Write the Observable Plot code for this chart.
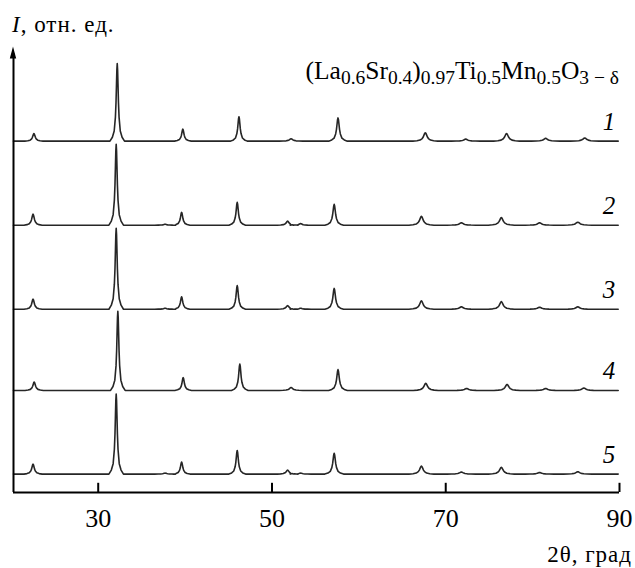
<!DOCTYPE html>
<html><head><meta charset="utf-8">
<script src="https://cdn.jsdelivr.net/npm/d3@7"></script>
<script src="https://cdn.jsdelivr.net/npm/@observablehq/plot@0.6"></script>
<style>
body{margin:0;background:#fff;}
#chart{width:635px;height:568px;}
</style></head><body><div id="chart"></div>
<script>
// ---- data ----
const sampleLabels = ["1", "2", "3", "4", "5"];
// vertical stacking offset of each pattern (relative units)
const baselines = [439, 334, 229, 127.5, 23];
// peak positions, 2θ (deg)
const pos1 = [22.6, 32.19, 39.74, 46.2, 52.2, 57.6, 67.65, 72.3, 77.0, 81.5, 86.0];
const pos4 = [22.63, 32.26, 39.78, 46.3, 52.2, 57.6, 67.7, 72.4, 77.06, 81.5, 85.9];
const posB = [22.5, 32.07, 37.7, 39.6, 46.0, 51.8, 53.3, 57.16, 67.2, 71.8, 76.4, 80.8, 85.2];
// peak intensities, relative units
const int1 = [9.5, 97, 15, 30.5, 3, 29, 10.5, 2.5, 9.5, 3.5, 4];
const int2 = [13.75, 101, 1.25, 16, 28.5, 5, 2, 26, 11, 3, 9.5, 3, 3.75];
const int3 = [12.5, 101, 1.25, 15.5, 29.5, 4.5, 1.25, 26, 10.5, 3, 9.5, 2.5, 3];
const int4 = [10.5, 99, 16, 33, 3.75, 26, 9, 2.5, 7.5, 2.5, 3];
const int5 = [12.5, 100, 1.25, 15, 29.5, 5, 1.25, 26, 10, 2.5, 8.5, 2, 3];
// peak full widths at half maximum, deg
const fwA = [0.35, 0.28, 0.32, 0.32, 0.45, 0.36, 0.48, 0.55, 0.5, 0.55, 0.55];
const fwB = [0.35, 0.28, 0.4, 0.32, 0.32, 0.4, 0.4, 0.36, 0.48, 0.55, 0.5, 0.55, 0.55];
const xTicks = [30, 50, 70, 90];

const positions = [pos1, posB, posB, pos4, posB];
const intensities = [int1, int2, int3, int4, int5];
const widths = [fwA, fwB, fwB, fwA, fwB];

const xDomain = [20.25, 90];
const yTop = 556;

// peak outline template (in FWHM units / fraction of peak height)
const shapeDx = [-3, -2, -1.25, -0.75, -0.5, -0.3, -0.15, 0, 0.15, 0.3, 0.5, 0.75, 1.25, 2, 3];
const shapeFr = [0, 0.05, 0.13, 0.31, 0.5, 0.74, 0.92, 1, 0.92, 0.74, 0.5, 0.31, 0.13, 0.05, 0];

const rows = [];
sampleLabels.forEach((s, i) => {
  const b = baselines[i];
  const pts = [{x: xDomain[0], y: b}, {x: 89.85, y: b}];
  positions[i].forEach((p, k) => {
    shapeDx.forEach((d, j) => pts.push({x: p + d * widths[i][k], y: b + shapeFr[j] * intensities[i][k]}));
  });
  pts.sort((a, c) => a.x - c.x);
  pts.forEach(p => rows.push({sample: s, x: p.x, y: p.y}));
});

const serif = "'Liberation Serif','Times New Roman',serif";

const plot = Plot.plot({
  width: 635, height: 568,
  marginLeft: 13, marginRight: 16, marginTop: 47, marginBottom: 76,
  x: {domain: xDomain, axis: null},
  y: {domain: [0, yTop], axis: null},
  style: {fontFamily: serif, background: "#fff", color: "#000", overflow: "visible"},
  marks: [
    Plot.line(rows, {x: "x", y: "y", z: "sample", stroke: "#262626", strokeWidth: 1.6}),
    Plot.ruleY([0], {stroke: "#000", strokeWidth: 2.2}),
    Plot.ruleX([xDomain[0]], {y1: 0, y2: yTop - 8, stroke: "#000", strokeWidth: 2}),
    Plot.ruleX(xTicks, {x: d => d, y1: 0, y2: 11.5, stroke: "#000", strokeWidth: 2}),
    Plot.text(xTicks, {x: d => d, text: d => String(d), frameAnchor: "bottom", lineAnchor: "bottom",
      dy: 34.5, fontSize: 26, fontFamily: serif, fill: "#000"}),
    Plot.text(sampleLabels, {x: () => 89.5, y: (d, i) => baselines[i] + 14, text: d => d,
      textAnchor: "end", lineAnchor: "bottom", fontStyle: "italic", fontSize: 25, fontFamily: serif, fill: "#000"})
  ]
});
document.getElementById("chart").appendChild(plot);

const svg = d3.select(plot);
const xs = plot.scale("x"), ys = plot.scale("y");
const ax = xs.apply(xDomain[0]), ay = ys.apply(yTop);
svg.append("path")
  .attr("d", `M${ax},${ay - 0.5}L${ax - 3.2},${ay + 11.5}L${ax + 3.2},${ay + 11.5}Z`)
  .attr("fill", "#000");

// y-axis title
const yt = svg.append("text").attr("x", 12).attr("y", 31.5).attr("text-anchor", "start")
  .attr("font-family", serif).attr("font-size", 23).attr("letter-spacing", 1).attr("fill", "#000");
yt.append("tspan").attr("font-style", "italic").text("I");
yt.append("tspan").text(", отн. ед.");

// x-axis title
const xt = svg.append("text").attr("x", 632).attr("y", 561.5).attr("text-anchor", "end")
  .attr("font-family", serif).attr("font-size", 23).attr("letter-spacing", 1).attr("fill", "#000");
xt.append("tspan").text("2θ, град");

// compound formula
const parts = [["(La", 0], ["0.6", 1], ["Sr", 0], ["0.4", 1], [")", 0], ["0.97", 1], ["Ti", 0], ["0.5", 1],
  ["Mn", 0], ["0.5", 1], ["O", 0], ["3 − δ", 1]];
const ft = svg.append("text").attr("x", 619).attr("y", 78.5).attr("text-anchor", "end")
  .attr("font-family", serif).attr("font-size", 25.5).attr("fill", "#000");
let sub = false;
parts.forEach(([t, s]) => {
  const ts = ft.append("tspan").text(t);
  if (s) ts.attr("font-size", 19.5);
  if (s && !sub) { ts.attr("dy", 5); sub = true; }
  else if (!s && sub) { ts.attr("dy", -5); sub = false; }
});
</script></body></html>
